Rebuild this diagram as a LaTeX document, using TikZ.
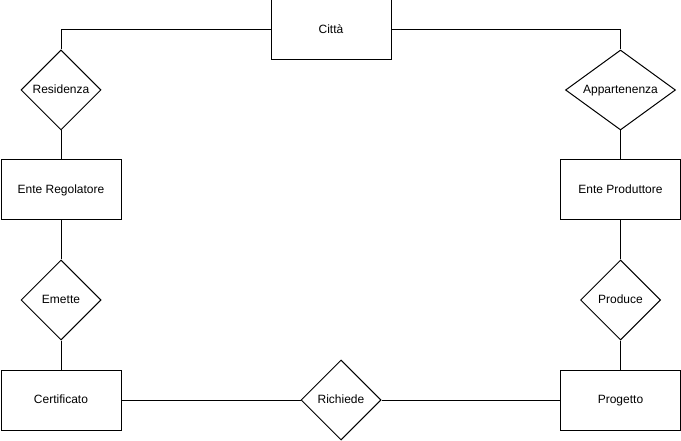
\documentclass[tikz,border=0pt]{standalone}
\usepackage{fontspec}
\setmainfont{Liberation Sans}
\usetikzlibrary{shapes.geometric}
\begin{document}
\begin{tikzpicture}[x=1pt,y=-1pt,line width=1pt,
  lbl/.style={font=\fontsize{12}{14}\selectfont,text height=8.6pt,text depth=2.5pt},
  entity/.style={lbl,draw,rectangle,minimum width=120pt,minimum height=60pt,inner sep=0pt},
  rel/.style={lbl,draw,diamond,minimum width=80pt,minimum height=80pt,inner sep=0pt},
  link/.style={draw,line width=1pt}]
\useasboundingbox (0,0) rectangle (681,441);
\node[entity] (citta) at (331,30) {Città};
\node[rel] (res) at (61,90) {Residenza};
\node[rel,aspect=1.375,minimum width=110pt] (app) at (620.5,90) {Appartenenza};
\node[entity] (er) at (61,190) {Ente Regolatore};
\node[entity] (ep) at (620.5,190) {Ente Produttore};
\node[rel] (em) at (61,300) {Emette};
\node[rel] (prod) at (620.5,300) {Produce};
\node[entity] (cert) at (61,400) {Certificato};
\node[entity] (prog) at (620.5,400) {Progetto};
\node[rel] (rich) at (341,400) {Richiede};
\draw[link] (citta.west) -| (res.north);
\draw[link] (citta.east) -| (app.north);
\draw[link] (res.south) -- (er.north);
\draw[link] (app.south) -- (ep.north);
\draw[link] (er.south) -- (em.north);
\draw[link] (ep.south) -- (prod.north);
\draw[link] (em.south) -- (cert.north);
\draw[link] (prod.south) -- (prog.north);
\draw[link] (cert.east) -- (rich.west);
\draw[link] (rich.east) -- (prog.west);
\end{tikzpicture}
\end{document}
